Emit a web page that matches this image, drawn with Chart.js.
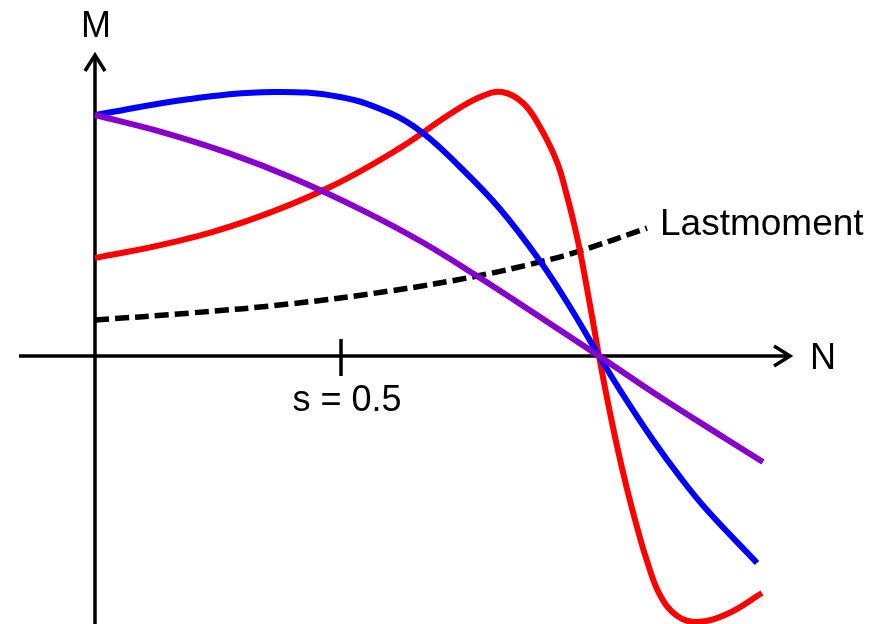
<!DOCTYPE html>
<html>
<head>
<meta charset="utf-8">
<script src="https://cdn.jsdelivr.net/npm/chart.js@4.4.0/dist/chart.umd.min.js"></script>
<style>
  body{margin:0;background:#fff;}
  canvas{display:block;}
</style>
</head>
<body>
<canvas id="motor_canvas" width="883" height="624"></canvas>
<script>
// speed N (0 = standstill, 1 = synchronous speed) and torque M per curve
var nBlue = [0, 0.1885, 0.3532, 0.4861, 0.5853, 0.6508, 0.7242, 0.8036, 0.8829, 0.9425, 1, 1.0417, 1.1071, 1.1607, 1.2143, 1.3135];
var mBlue = [1.004, 1.071, 1.1, 1.079, 1.0125, 0.929, 0.7875, 0.6125, 0.396, 0.204, 0, -0.142, -0.35, -0.504, -0.642, -0.8625];

var nRed = [0, 0.1488, 0.3075, 0.4663, 0.6052, 0.7044, 0.7639, 0.8075, 0.8492, 0.8829, 0.9167, 0.9365, 0.9524, 0.9623, 0.9782, 0.9881, 1,
            1.0159, 1.0357, 1.0556, 1.0754, 1.0952, 1.1210, 1.1548, 1.1944, 1.2540, 1.3234];
var mRed = [0.408, 0.471, 0.567, 0.704, 0.867, 1.008, 1.079, 1.1, 1.054, 0.954, 0.808, 0.667, 0.533, 0.4375, 0.258, 0.142, 0,
            -0.175, -0.375, -0.554, -0.7125, -0.854, -0.996, -1.083, -1.108, -1.075, -0.9875];

var nPurple = [0, 0.1329, 0.2639, 0.3968, 0.5298, 0.6488, 0.7579, 0.8829, 1, 1.1151, 1.2460, 1.3254];
var mPurple = [1.004, 0.933, 0.846, 0.7375, 0.608, 0.475, 0.333, 0.1625, 0, -0.1625, -0.3375, -0.442];

var nLoad = [0, 0.1885, 0.3869, 0.5853, 0.7579, 0.8829, 0.9623, 1.0952];
var mLoad = [0.15, 0.179, 0.217, 0.271, 0.333, 0.392, 0.4375, 0.533];

var loadLabel = 'Lastmoment';
var slipTick = 0.5;
var slipLabel = 's = 0.5';
var xAxisLabel = 'N';
var yAxisLabel = 'M';

function toPoints(n, m){
    var pts = [];
    for(var i in n){
        pts.push({x: n[i], y: m[i]});
    }
    return pts;
}

function curve(n, m, color){
    return {
        data: toPoints(n, m),
        borderColor: color,
        borderWidth: 6,
        showLine: true,
        pointRadius: 0,
        tension: 0.4,
        fill: false,
        clip: false
    };
}

var loadCurve = curve(nLoad, mLoad, '#000000');
loadCurve.borderWidth = 5.5;
loadCurve.borderDash = [14, 6];
loadCurve.borderCapStyle = 'butt';

// axes with arrows, the slip tick and the labels
var axesPlugin = {
    id: 'axes',
    beforeDatasetsDraw: function(chart){
        var ctx = chart.ctx;
        var xs = chart.scales.x;
        var ys = chart.scales.y;
        var x0 = xs.getPixelForValue(0);
        var y0 = ys.getPixelForValue(0);
        var xEnd = xs.getPixelForValue(1.379);
        var yTop = ys.getPixelForValue(1.254);

        ctx.save();
        ctx.strokeStyle = '#000';
        ctx.lineWidth = 3.5;
        ctx.lineCap = 'butt';
        ctx.beginPath();
        ctx.moveTo(xs.getPixelForValue(-0.1508), y0);
        ctx.lineTo(xEnd, y0);
        ctx.moveTo(x0, ys.getPixelForValue(-1.12));
        ctx.lineTo(x0, yTop);
        ctx.stroke();

        ctx.lineJoin = 'miter';
        ctx.beginPath();
        ctx.moveTo(xEnd - 16, y0 - 10);
        ctx.lineTo(xEnd, y0);
        ctx.lineTo(xEnd - 16, y0 + 10);
        ctx.moveTo(x0 - 10, yTop + 16);
        ctx.lineTo(x0, yTop);
        ctx.lineTo(x0 + 10, yTop + 16);
        ctx.stroke();

        var xt = xs.getPixelForValue(1 - slipTick);
        ctx.beginPath();
        ctx.moveTo(xt - 6, y0 - 17);
        ctx.lineTo(xt - 6, y0 + 20);
        ctx.stroke();

        ctx.fillStyle = '#000';
        ctx.font = '36px "Liberation Sans", Arial, sans-serif';
        ctx.textBaseline = 'alphabetic';
        ctx.textAlign = 'center';
        ctx.fillText(slipLabel, xt, y0 + 55);
        ctx.fillText(yAxisLabel, x0 + 1, yTop - 18);
        ctx.textAlign = 'left';
        ctx.fillText(xAxisLabel, xEnd + 20, y0 + 13);

        var last = nLoad.length - 1;
        ctx.font = '37px "Liberation Sans", Arial, sans-serif';
        ctx.fillText(loadLabel, xs.getPixelForValue(nLoad[last]) + 13, ys.getPixelForValue(mLoad[last]) + 7);
        ctx.restore();
    }
};

var ctx1 = document.getElementById('motor_canvas');
var chart = new Chart(ctx1, {
    type: 'scatter',
    data: {
        datasets: [
            curve(nPurple, mPurple, '#8800cc'),
            curve(nBlue, mBlue, '#0000ff'),
            curve(nRed, mRed, '#ff0000'),
            loadCurve
        ]
    },
    options: {
        responsive: false,
        animation: false,
        layout: {padding: 0},
        plugins: {
            legend: {display: false},
            tooltip: {enabled: false}
        },
        scales: {
            x: {type: 'linear', display: false, min: -0.18849, max: 1.56349},
            y: {type: 'linear', display: false, min: -1.1167, max: 1.4833}
        }
    },
    plugins: [axesPlugin]
});
</script>
</body>
</html>
